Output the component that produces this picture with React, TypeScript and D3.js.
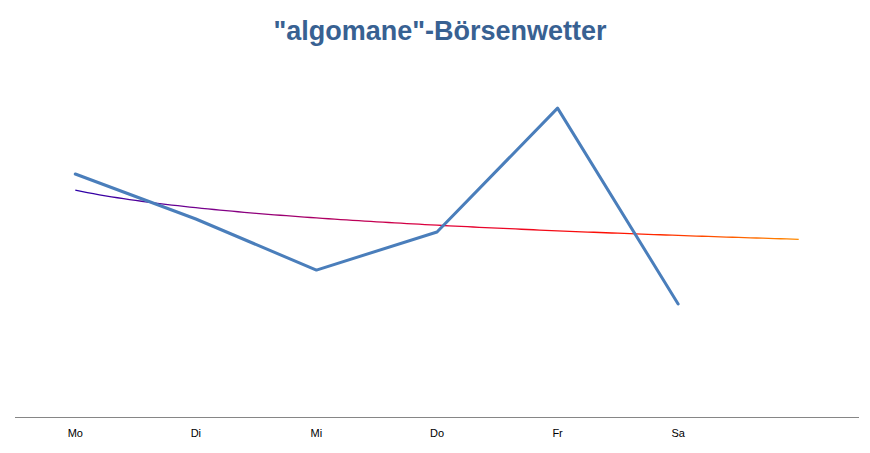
import React from "react";
import * as d3 from "d3";

const categories = ["Mo", "Di", "Mi", "Do", "Fr", "Sa", ""];
const seriesValues = [6.75, 5.5, 4.08, 5.14, 8.58, 3.14];
const titleText = "\"algomane\"-Börsenwetter";

const W = 870;
const H = 453;

// logarithmic trendline (least squares on ln(index+1)), as the source chart does
function logFit(vals: number[]) {
  const L = vals.map((_, i) => Math.log(i + 1));
  const mL = d3.mean(L) as number;
  const mY = d3.mean(vals) as number;
  let sxy = 0;
  let sxx = 0;
  vals.forEach((v, i) => {
    sxy += (L[i] - mL) * (v - mY);
    sxx += (L[i] - mL) * (L[i] - mL);
  });
  const b = sxy / sxx;
  const a = mY - b * mL;
  return (t: number) => a + b * Math.log(t + 1);
}

export default function App() {
  const x = d3.scaleBand<string>().domain(categories.map((_, i) => String(i))).range([15, 859]).padding(0);
  const y = d3.scaleLinear().domain([0, 10]).range([417, 57]);
  const step = x.step();
  const cx = (i: number) => (x("0") as number) + x.bandwidth() / 2 + i * step;

  const line = d3
    .line<number>()
    .x((_, i) => cx(i))
    .y((d) => y(d));

  const lastIdx = categories.length - 1;
  const fit = logFit(seriesValues);
  const ts = d3.range(0, lastIdx + 0.0001, 0.05);
  const trendLine = d3
    .line<number>()
    .x((t) => cx(t))
    .y((t) => y(fit(t)));

  return (
    <svg width={W} height={H} style={{ position: "absolute", left: 0, top: 0, background: "#fff" }}>
      <defs>
        <linearGradient id="trendGrad" gradientUnits="userSpaceOnUse" x1={cx(0)} y1={0} x2={cx(lastIdx)} y2={0}>
          <stop offset="0" stopColor="#2a00a8" />
          <stop offset="0.2" stopColor="#800088" />
          <stop offset="0.5" stopColor="#e0003a" />
          <stop offset="0.75" stopColor="#ff1000" />
          <stop offset="1" stopColor="#ff8a00" />
        </linearGradient>
      </defs>
      <text
        x={440}
        y={40}
        textAnchor="middle"
        fontFamily="'Liberation Sans', Arial, sans-serif"
        fontWeight="bold"
        fontSize={27}
        fill="#386192"
      >
        {titleText}
      </text>
      <line x1={15} x2={859} y1={417.5} y2={417.5} stroke="#868686" strokeWidth={1} />
      {categories.map((c, i) => (
        <text
          key={i}
          x={cx(i)}
          y={437}
          textAnchor="middle"
          fontFamily="'Liberation Sans', Arial, sans-serif"
          fontSize={11}
          fill="#000"
        >
          {c}
        </text>
      ))}
      <path d={trendLine(ts) || ""} fill="none" stroke="url(#trendGrad)" strokeWidth={1.3} />
      <path d={line(seriesValues) || ""} fill="none" stroke="#4a7ebb" strokeWidth={3} strokeLinejoin="round" strokeLinecap="round" />
    </svg>
  );
}
